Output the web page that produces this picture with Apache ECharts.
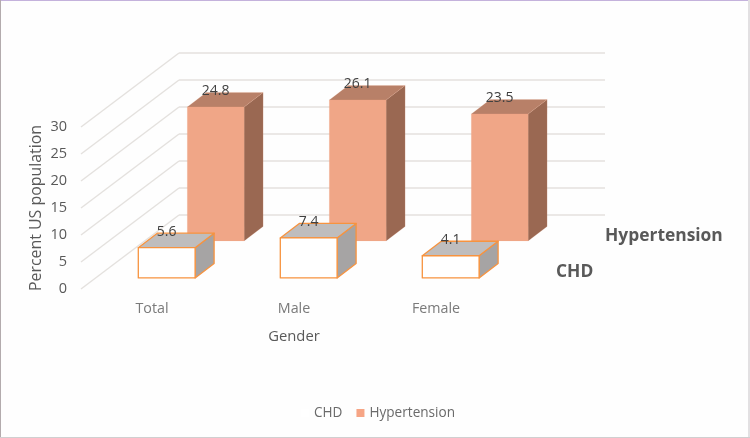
<!DOCTYPE html>
<html>
<head>
<meta charset="utf-8">
<style>
  html, body { margin: 0; padding: 0; background: #fff; }
  #chart { width: 750px; height: 438px; }
</style>
<script src="https://cdn.jsdelivr.net/npm/echarts@6/dist/echarts.min.js"></script>
</head>
<body>
<div id="chart"></div>
<script>
const categories = ['Total', 'Male', 'Female'];
const chdValues = [5.6, 7.4, 4.1];
const hypertensionValues = [24.8, 26.1, 23.5];
const yTicks = [0, 5, 10, 15, 20, 25, 30];

// depth of the fake 3d box, in pixels
const wallDx = 98, wallDy = -74;
const barDx = 19, barDy = -14.5;

const chart = echarts.init(document.getElementById('chart'));

// walls: one slanted line on the side, one flat line on the back
function renderWall(params, api) {
  const p = api.coord([0, api.value(1)]);
  const bw = api.size([1, 0])[0];
  const x0 = p[0] - bw / 2;
  const y0 = p[1];
  const x1 = x0 + wallDx, y1 = y0 + wallDy;
  const style = { stroke: '#e4e1de', lineWidth: 1.4, fill: null };
  return {
    type: 'group',
    children: [
      { type: 'line', shape: { x1: x0, y1: y0, x2: x1, y2: y1 }, style },
      { type: 'line', shape: { x1: x1, y1: y1, x2: x0 + wallDx + bw * categories.length, y2: y1 }, style }
    ]
  };
}

// one box, shifted back by shift (0 = front of floor, 1 = back wall)
function boxRenderer(shift, c) {
  return function (params, api) {
    const base = api.coord([api.value(0), 0]);
    const top = api.coord([api.value(0), api.value(1)]);
    const w = api.size([1, 0])[0] * 0.4;
    const sx = wallDx * shift, sy = wallDy * shift;
    const l = base[0] - w / 2 + sx, r = l + w;
    const b = base[1] + sy, t = top[1] + sy;
    const edge = { stroke: c.edge, lineWidth: c.edgeWidth, lineJoin: 'round' };
    return {
      type: 'group',
      children: [
        { type: 'polygon', shape: { points: [[r, b], [r + barDx, b + barDy], [r + barDx, t + barDy], [r, t]] },
          style: Object.assign({ fill: c.side }, edge) },
        { type: 'polygon', shape: { points: [[l, t], [r, t], [r + barDx, t + barDy], [l + barDx, t + barDy]] },
          style: Object.assign({ fill: c.top }, edge) },
        { type: 'rect', shape: { x: l, y: t, width: w, height: b - t },
          style: Object.assign({ fill: c.front }, edge) },
        { type: 'text', z2: 10, style: { text: api.value(1).toFixed(1), x: (l + r) / 2, y: t - 16,
            align: 'center', verticalAlign: 'middle', fill: '#404040', fontSize: 14, fontFamily: 'Open Sans' } }
      ]
    };
  };
}

const option = {
  animation: false,
  backgroundColor: '#fefefe',
  grid: { left: 81, top: 127, width: 426, height: 162 },
  legend: {
    bottom: 13,
    left: 296,
    itemWidth: 8,
    itemHeight: 8,
    itemGap: 14,
    icon: 'rect',
    data: ['CHD', 'Hypertension'],
    textStyle: { color: '#6a6a6a', fontSize: 13.6, fontFamily: 'Open Sans' }
  },
  xAxis: {
    type: 'category',
    data: categories,
    name: 'Gender',
    nameLocation: 'middle',
    nameGap: 40,
    nameTextStyle: { color: '#595959', fontSize: 14.8, fontFamily: 'Open Sans' },
    axisLine: { show: false },
    axisTick: { show: false },
    axisLabel: { margin: 13, color: '#7a7a7a', fontSize: 14.3, fontFamily: 'Open Sans' }
  },
  yAxis: {
    type: 'value',
    min: 0,
    max: 30,
    interval: 5,
    name: 'Percent US population',
    nameLocation: 'middle',
    nameGap: 37,
    nameMoveOverlap: false,
    nameTextStyle: { color: '#595959', fontSize: 15.9, fontFamily: 'Open Sans' },
    axisLine: { show: false },
    axisTick: { show: false },
    splitLine: { show: false },
    axisLabel: { margin: 14, color: '#595959', fontSize: 14.5, fontFamily: 'Open Sans' }
  },
  series: [
    { name: 'walls', type: 'custom', renderItem: renderWall, silent: true, z: 1,
      data: yTicks.map(v => [0, v]) },
    { name: 'Hypertension', type: 'custom', z: 2, itemStyle: { color: '#f6a585' },
      renderItem: boxRenderer(0.65, { front: '#f0a687', side: '#9a6852', top: '#b88068', edge: 'rgba(240,166,135,0.3)', edgeWidth: 0.5 }),
      data: hypertensionValues.map((v, i) => [i, v]) },
    { name: 'CHD', type: 'custom', z: 3, itemStyle: { color: '#ffffff' },
      renderItem: boxRenderer(0.15, { front: '#ffffff', side: '#a6a4a4', top: '#bfbdbd', edge: '#f7933f', edgeWidth: 1.3 }),
      data: chdValues.map((v, i) => [i, v]) }
  ],
  graphic: [
    { type: 'text', left: 605, top: 228, style: { text: 'Hypertension', fill: '#595959', fontSize: 17.4, fontWeight: 'bold', fontFamily: 'Open Sans' } },
    { type: 'text', left: 556, top: 264, style: { text: 'CHD', fill: '#595959', fontSize: 17.4, fontWeight: 'bold', fontFamily: 'Open Sans' } },
    // thin frame around the picture
    { type: 'line', shape: { x1: 0, y1: 0.5, x2: 750, y2: 0.5 }, style: { stroke: '#c4b2dc', lineWidth: 1 } },
    { type: 'line', shape: { x1: 0.5, y1: 0, x2: 0.5, y2: 438 }, style: { stroke: '#b3abad', lineWidth: 1 } },
    { type: 'line', shape: { x1: 749, y1: 0, x2: 749, y2: 438 }, style: { stroke: '#e2e0e2', lineWidth: 2 } },
    { type: 'line', shape: { x1: 0, y1: 437.5, x2: 750, y2: 437.5 }, style: { stroke: '#d0cfd0', lineWidth: 1 } }
  ]
};

chart.setOption(option);
</script>
</body>
</html>
